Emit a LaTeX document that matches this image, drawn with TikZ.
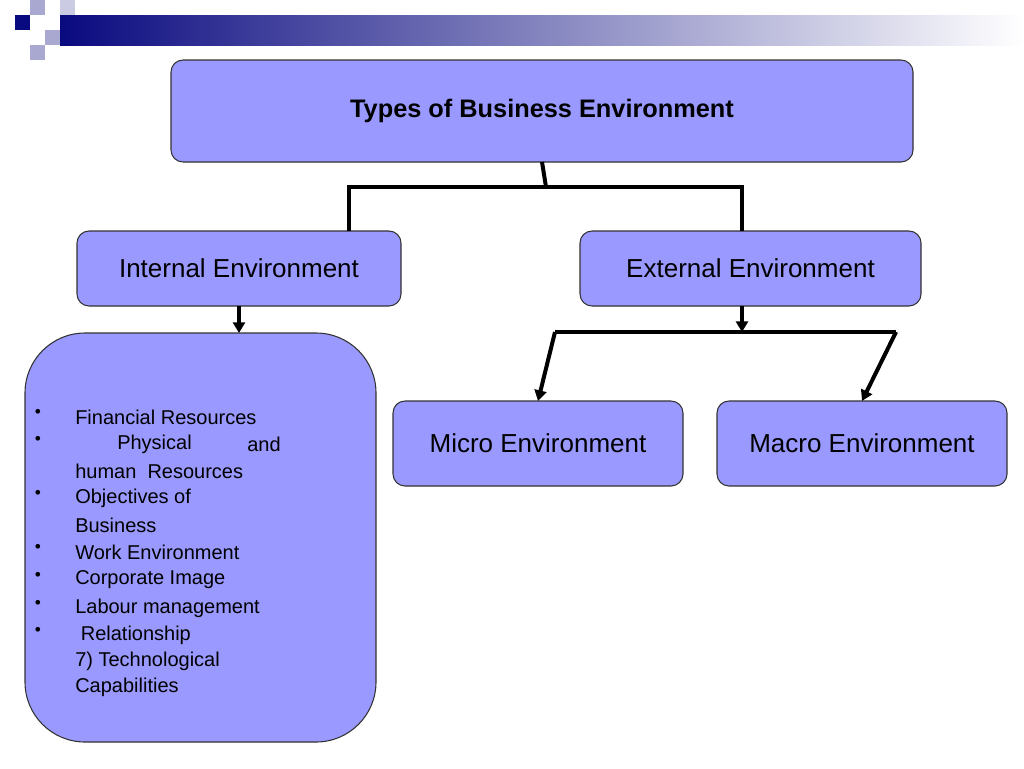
\documentclass[tikz,border=0pt]{standalone}
\usepackage{fontspec}
\setmainfont{Liberation Sans}
\usetikzlibrary{arrows.meta}
\definecolor{boxblue}{HTML}{9999FF}
\definecolor{navy}{HTML}{0A0A80}
\definecolor{lightsq}{HTML}{A8A8D0}
\begin{document}
\begin{tikzpicture}[x=0.75pt,y=-0.75pt,
  box/.style={draw=black!80,fill=boxblue,rounded corners=9pt,line width=0.8pt},
  link/.style={line width=3pt,draw=black},
  arr/.style={link,-{Triangle[length=8pt,width=9pt]}}]
\useasboundingbox (0,0) rectangle (1024,768);

                % banner
                \shade[left color=navy,right color=white] (60,15) rectangle (1024,45);
                \fill[navy] (15,15) rectangle (30,30);
                \fill[lightsq] (30,0) rectangle (45,15);
                \fill[lightsq] (45,30) rectangle (60,45);
                \fill[lightsq] (30,45) rectangle (45,60);
                \fill[lightsq!60] (60,0) rectangle (75,15);

                % boxes
                \draw[box] (171,60) rectangle (913,162)
                node[midway] (top) {\fontsize{19pt}{22pt}\selectfont\bfseries Types of Business Environment};
                \draw[box] (77,231) rectangle (401,306)
                node[midway] (int) {\fontsize{19.5pt}{22pt}\selectfont Internal Environment};
                \draw[box] (580,231) rectangle (921,306)
                node[midway] (ext) {\fontsize{19.5pt}{22pt}\selectfont External Environment};
                \draw[box] (393,401) rectangle (683,486)
                node[midway] (micro) {\fontsize{19.5pt}{22pt}\selectfont Micro Environment};
                \draw[box] (717,401) rectangle (1007,486)
                node[midway] (macro) {\fontsize{19.5pt}{22pt}\selectfont Macro Environment};
                \draw[box,rounded corners=45pt] (25,333) rectangle (376,742);
                \coordinate (list) at (239,333);

                % list
                \foreach \y/\b/\t in {417/1/Financial\ Resources,471/0/human\ \ Resources,498/1/Objectives of,
                  525/0/Business,552/1/Work Environment,580/1/Corporate Image,
                  608/1/Labour management,635/1/\ Relationship,661/0/7) Technological,687/0/Capabilities}
                {
                  \node[anchor=west,inner sep=0pt,font=\fontsize{15pt}{17pt}\selectfont] at (75,\y) {\t};
                  \ifnum\b=1 \node[inner sep=0pt,font=\fontsize{13pt}{15pt}\selectfont] at (38,\y-4) {\textbullet}; \fi
                }
                \node[inner sep=0pt,font=\fontsize{13pt}{15pt}\selectfont] at (38,440) {\textbullet};
                \node[anchor=west,inner sep=0pt,font=\fontsize{15pt}{17pt}\selectfont] at (117,444) {Physical};
                \node[anchor=east,inner sep=0pt,font=\fontsize{15pt}{17pt}\selectfont] at (281,444) {and};

                % connectors
                \draw[link] (top.center |- 0,162) -- (546,187);
                \draw[link] (349,231) |- (742,187) -- (742,231);
                \draw[arr] (int.center |- 0,306) -- (list);
                \draw[arr] (742,306) -- (742,332);
                \draw[link] (555,332) -- (896,332);
                \draw[arr] (555,332) -- (micro.center |- 0,401);
                \draw[arr] (896,332) -- (macro.center |- 0,401);
\end{tikzpicture}
\end{document}
